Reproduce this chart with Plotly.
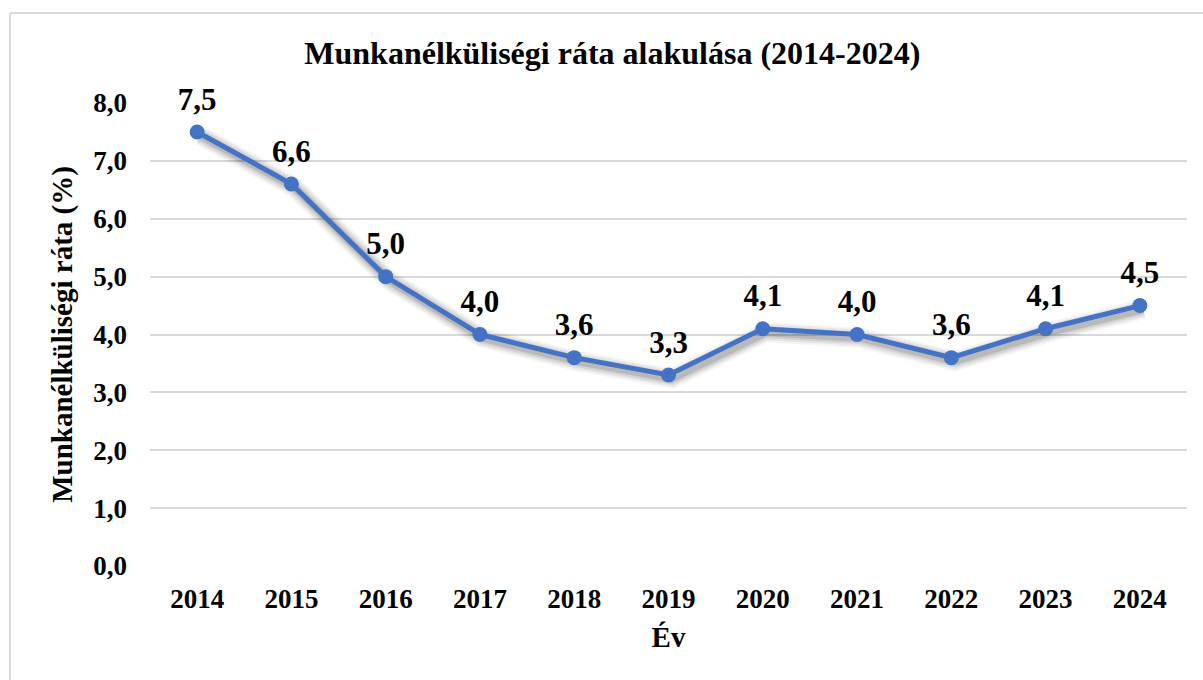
import plotly.graph_objects as go

years = ["2014", "2015", "2016", "2017", "2018", "2019", "2020", "2021", "2022", "2023", "2024"]
rates = [7.5, 6.6, 5.0, 4.0, 3.6, 3.3, 4.1, 4.0, 3.6, 4.1, 4.5]
y_ticks = [0, 1, 2, 3, 4, 5, 6, 7, 8]
labels = [f"{v:.1f}".replace(".", ",") for v in rates]

FONT = "Liberation Serif, Times New Roman, serif"
BLUE = "#4472C4"

fig = go.Figure()

# invisible trace on base axes (provides categories / ticks)
fig.add_trace(go.Scatter(x=years, y=rates, mode="markers",
                         marker=dict(opacity=0, size=1),
                         hoverinfo="skip", showlegend=False))

# blurred shadow on a slightly shifted overlay axis
for w, a in [(20, 0.045), (16, 0.06), (12, 0.08), (8, 0.12)]:
    fig.add_trace(go.Scatter(
        x=years, y=rates, mode="lines", xaxis="x2", yaxis="y2",
        line=dict(color=f"rgba(0,0,0,{a})", width=w),
        hoverinfo="skip", showlegend=False))

# main line
fig.add_trace(go.Scatter(
    x=years, y=rates, mode="lines+markers", xaxis="x3", yaxis="y3",
    line=dict(color=BLUE, width=5),
    marker=dict(color=BLUE, size=15),
    showlegend=False))

# data labels (on overlay axis shifted so they sit higher)
fig.add_trace(go.Scatter(
    x=years, y=rates, mode="text", xaxis="x4", yaxis="y4",
    text=labels, textposition="top center", cliponaxis=False,
    textfont=dict(family=FONT, size=31, color="black", weight=700),
    hoverinfo="skip", showlegend=False))

n = len(years)
xr = [-0.5, n - 0.5]
dx = 0.035
dy = 0.06
ty = 0.25

tick_font = dict(family=FONT, size=27, color="black", weight=700)
title_font = dict(family=FONT, size=29, color="black", weight=700)

fig.update_layout(
    width=1203, height=680,
    margin=dict(l=150, r=16, t=103, b=114),
    paper_bgcolor="white", plot_bgcolor="white",
    separators=", ",
    title=dict(text="Munkanélküliségi ráta alakulása (2014-2024)",
               x=0.509, xref="container", xanchor="center",
               y=1 - 53 / 680, yref="container", yanchor="middle",
               font=dict(family=FONT, size=32, color="black", weight=700)),
    xaxis=dict(type="category", range=xr, showgrid=False,
               showline=False, zeroline=False, tickfont=tick_font,
               ticklabelstandoff=14,
               title=dict(text="Év", standoff=13, font=title_font)),
    yaxis=dict(range=[0, 8], tickvals=y_ticks, tickformat=".1f",
               showgrid=True, gridcolor="#D9D9D9", gridwidth=1.5,
               zeroline=False, showline=False, tickfont=tick_font,
               ticklabelstandoff=22,
               title=dict(text="Munkanélküliségi ráta (%)", standoff=12, font=title_font)),
    xaxis2=dict(type="category", range=[xr[0] - dx, xr[1] - dx], overlaying="x", visible=False),
    yaxis2=dict(range=[dy, 8 + dy], overlaying="y", visible=False),
    xaxis3=dict(type="category", range=xr, overlaying="x", visible=False),
    yaxis3=dict(range=[0, 8], overlaying="y", visible=False),
    xaxis4=dict(type="category", range=xr, overlaying="x", visible=False),
    yaxis4=dict(range=[-ty, 8 - ty], overlaying="y", visible=False),
)

# chart area border (left and top edges visible)
bx = (10 - 150) / 1037
by = 1 + (103 - 13) / 463
fig.add_shape(type="line", xref="paper", yref="paper",
              x0=bx, x1=bx, y0=-0.3, y1=by,
              line=dict(color="#D9D9D9", width=2))
fig.add_shape(type="line", xref="paper", yref="paper",
              x0=bx, x1=1.1, y0=by, y1=by,
              line=dict(color="#D9D9D9", width=2))

fig.write_html("out.html", config={"displayModeBar": False},
               post_script="document.body.style.margin='0';")
